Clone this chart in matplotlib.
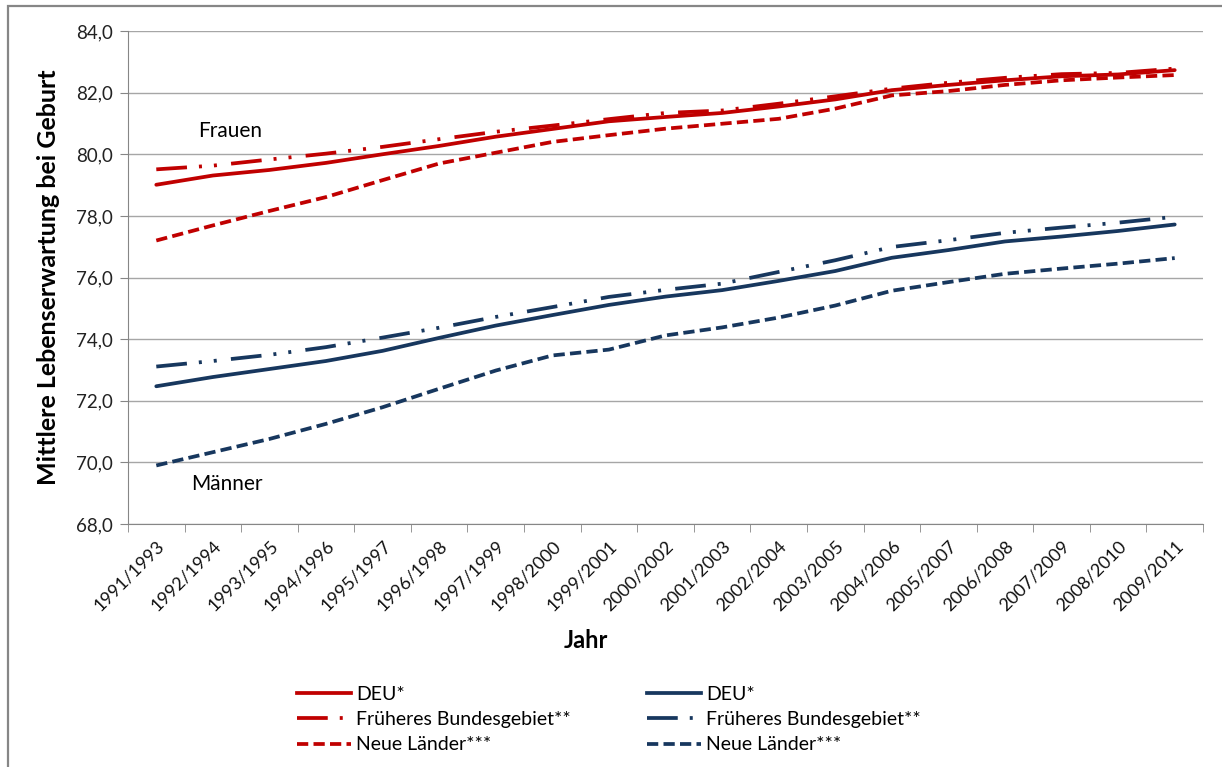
import matplotlib
matplotlib.use("Agg")
import matplotlib.pyplot as plt
from matplotlib.patches import Rectangle
from matplotlib.lines import Line2D

plt.rcParams['font.family'] = ['Lato', 'DejaVu Sans']

# Daten
jahre = ['1991/1993', '1992/1994', '1993/1995', '1994/1996', '1995/1997',
         '1996/1998', '1997/1999', '1998/2000', '1999/2001', '2000/2002',
         '2001/2003', '2002/2004', '2003/2005', '2004/2006', '2005/2007',
         '2006/2008', '2007/2009', '2008/2010', '2009/2011']

frauen_deu = [79.01, 79.31, 79.49, 79.72, 80.00, 80.27, 80.57, 80.82, 81.07, 81.21,
              81.34, 81.55, 81.78, 82.08, 82.25, 82.40, 82.53, 82.59, 82.73]
frauen_frueher = [79.51, 79.63, 79.83, 80.02, 80.24, 80.49, 80.73, 80.93, 81.14, 81.34,
                  81.42, 81.64, 81.88, 82.13, 82.32, 82.48, 82.60, 82.64, 82.78]
frauen_neue = [77.20, 77.69, 78.16, 78.61, 79.16, 79.70, 80.05, 80.40, 80.62, 80.83,
               80.99, 81.15, 81.48, 81.91, 82.05, 82.25, 82.40, 82.49, 82.57]

maenner_deu = [72.47, 72.77, 73.03, 73.29, 73.62, 74.04, 74.44, 74.78, 75.11, 75.38,
               75.59, 75.89, 76.21, 76.64, 76.89, 77.17, 77.33, 77.51, 77.72]
maenner_frueher = [73.11, 73.29, 73.49, 73.74, 74.05, 74.37, 74.72, 75.04, 75.37, 75.60,
                   75.80, 76.18, 76.56, 76.99, 77.21, 77.45, 77.62, 77.78, 77.97]
maenner_neue = [69.90, 70.33, 70.76, 71.25, 71.79, 72.39, 72.98, 73.47, 73.66, 74.12,
                74.38, 74.70, 75.09, 75.57, 75.85, 76.12, 76.29, 76.45, 76.63]

rot = '#C00000'
blau = '#17375E'
strich_punkt = (0, (8.2, 3.2, 0.8, 3.2, 0.8, 3.8))
gestrichelt = (0, (3.0, 1.4))

W, H = 1222, 767
fig = plt.figure(figsize=(W / 100, H / 100), dpi=100)
ax = fig.add_axes([128 / W, 1 - 524 / H, (1203 - 128) / W, (524 - 31) / H])

x = list(range(len(jahre)))
lw = 2.7
ax.plot(x, frauen_deu, color=rot, lw=lw, solid_capstyle='round')
ax.plot(x, frauen_frueher, color=rot, lw=lw, linestyle=strich_punkt)
ax.plot(x, frauen_neue, color=rot, lw=lw, linestyle=gestrichelt)
ax.plot(x, maenner_deu, color=blau, lw=lw, solid_capstyle='round')
ax.plot(x, maenner_frueher, color=blau, lw=lw, linestyle=strich_punkt)
ax.plot(x, maenner_neue, color=blau, lw=lw, linestyle=gestrichelt)

ax.set_xlim(-0.5, len(jahre) - 0.5)
ax.set_ylim(68, 84)
ax.set_yticks(range(68, 85, 2))
ax.set_yticklabels([f'{v},0' for v in range(68, 85, 2)], fontsize=13.5, color='#222222')
ax.grid(axis='y', color='#A6A6A6', lw=1)
ax.set_axisbelow(True)

ax.set_xticks(x)
ax.set_xticklabels(jahre, rotation=45, ha='right', va='top', rotation_mode='anchor',
                   fontsize=13, color='#111111')
ax.tick_params(axis='x', which='major', length=0, pad=10)
ax.set_xticks([i - 0.5 for i in range(len(jahre) + 1)], minor=True)
ax.tick_params(axis='x', which='minor', length=6, color='#868686', direction='out')
ax.tick_params(axis='y', length=6, color='#868686', pad=5)

for s in ['top', 'right']:
    ax.spines[s].set_visible(False)
for s in ['left', 'bottom']:
    ax.spines[s].set_color('#868686')

ax.set_ylabel('Mittlere Lebenserwartung bei Geburt', fontsize=18, fontweight='bold')
ax.yaxis.set_label_coords(-0.063, 0.5)
fig.text(586 / W, 1 - 641 / H, 'Jahr', fontsize=17, fontweight='bold', ha='center', va='center')

fig.text(230 / W, 1 - 131 / H, 'Frauen', fontsize=15, ha='center', va='center')
fig.text(227 / W, 1 - 484 / H, 'Männer', fontsize=15, ha='center', va='center')

# Legende
namen = ['DEU*', 'Früheres Bundesgebiet**', 'Neue Länder***']
stile = ['-', strich_punkt, gestrichelt]
handles = []
labels = []
for farbe in [rot, blau]:
    for n, st in zip(namen, stile):
        handles.append(Line2D([], [], color=farbe, lw=lw, linestyle=st))
        labels.append(n)
fig.legend(handles, labels, ncol=2, loc='upper left', bbox_to_anchor=(297 / W, 1 - 686 / H),
           frameon=False, fontsize=14, handlelength=2.8, handletextpad=0.25,
           columnspacing=3.9, labelspacing=0.42, borderaxespad=0, borderpad=0)

# Rahmen des Diagrammbereichs
fig.patches.append(Rectangle((8 / W, -0.2), 1.2, 1 - 6 / H + 0.2, transform=fig.transFigure,
                             fill=False, edgecolor='#868686', lw=1.6, clip_on=False))

fig.savefig('out.png', dpi=100)
